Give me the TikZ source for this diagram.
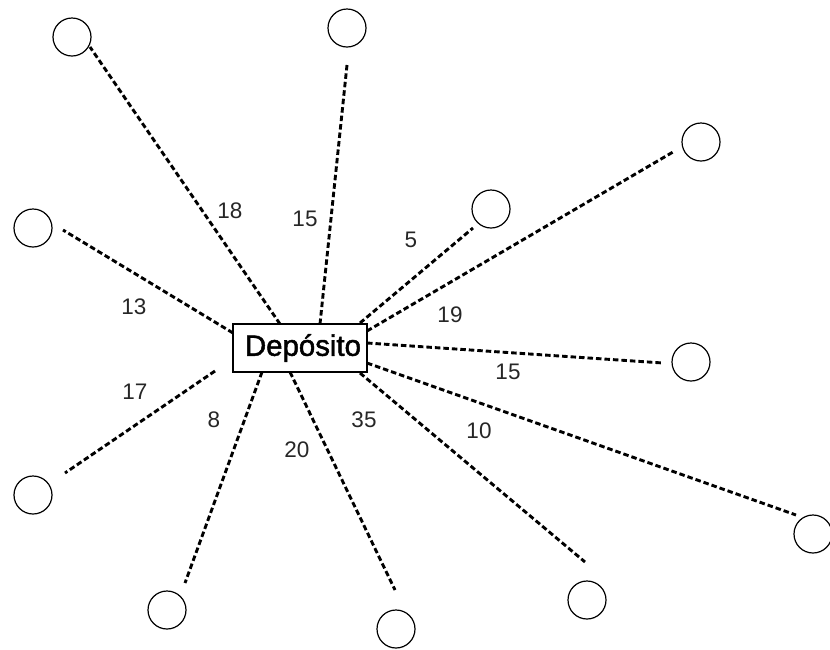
\documentclass[tikz,border=0pt]{standalone}
\usepackage{fontspec}
\setmainfont{Liberation Sans}
\newfontfamily\depotfont[FakeBold=1.6]{Liberation Sans}
\begin{document}
\begin{tikzpicture}[x=1pt,y=-1pt,
  stop/.style={circle,draw,line width=1.2pt,minimum size=38pt,inner sep=0pt},
  depot/.style={draw,line width=1.3pt,minimum width=134pt,minimum height=48pt,
    inner sep=0pt,font=\depotfont\fontsize{29.4}{30}\selectfont},
  route/.style={line width=2.9pt,dash pattern=on 5.5pt off 3pt},
  cost/.style={font=\fontsize{22.5}{23}\selectfont,text=black!85,inner sep=0pt}]
\useasboundingbox (0,0) rectangle (830,649);

% depot
\node[depot] (dep) at (300,348) {\hspace{6pt}Depósito};

% customers
\node[stop] (c1)  at (72,37)   {};
\node[stop] (c2)  at (347,28)  {};
\node[stop] (c3)  at (701,142) {};
\node[stop] (c4)  at (491,209) {};
\node[stop] (c5)  at (33,228)  {};
\node[stop] (c6)  at (691,362) {};
\node[stop] (c7)  at (33,495)  {};
\node[stop] (c8)  at (813,534) {};
\node[stop] (c9)  at (167,610) {};
\node[stop] (c10) at (587,600) {};
\node[stop] (c11) at (396,629) {};

% route end points (routes stop short of the circles)
\coordinate (d1)  at (280,324); \coordinate (e1)  at (90,47);
\coordinate (d2)  at (320,324); \coordinate (e2)  at (347,65);
\coordinate (d3)  at (367,331); \coordinate (e3)  at (673,152);
\coordinate (d4)  at (360,323); \coordinate (e4)  at (473,228);
\coordinate (d5)  at (233,333); \coordinate (e5)  at (63,230);
\coordinate (d6)  at (367,343); \coordinate (e6)  at (663,363);
\coordinate (d7)  at (215,371); \coordinate (e7)  at (65,473);
\coordinate (d8)  at (367,363); \coordinate (e8)  at (796,515);
\coordinate (d9)  at (262,372); \coordinate (e9)  at (185,583);
\coordinate (d10) at (360,373); \coordinate (e10) at (585,562);
\coordinate (d11) at (290,372); \coordinate (e11) at (395,590);

\foreach \i in {1,...,11}
  \draw[route] (d\i) -- (e\i);

% distances
\node[cost] (l1)  at (230,211) {18};
\node[cost] (l2)  at (305,219) {15};
\node[cost] (l3)  at (450,315) {19};
\node[cost] (l4)  at (411,240) {5};
\node[cost] (l5)  at (134,307) {13};
\node[cost] (l6)  at (508,372) {15};
\node[cost] (l7)  at (135,392) {17};
\node[cost] (l8)  at (479,431) {10};
\node[cost] (l9)  at (214,420) {8};
\node[cost] (l10) at (364,420) {35};
\node[cost] (l11) at (297,450) {20};
\end{tikzpicture}
\end{document}
